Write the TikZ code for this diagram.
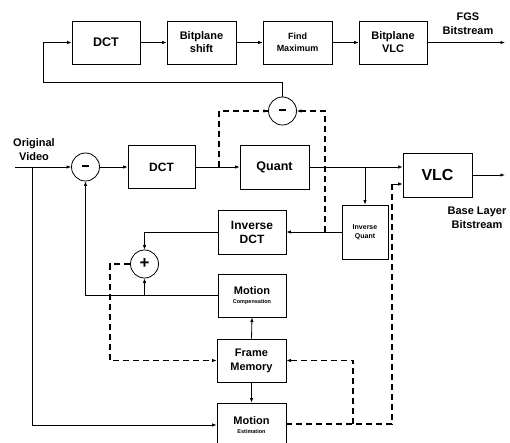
\documentclass[tikz,border=0pt]{standalone}
\usepackage{fontspec}
\setmainfont{Liberation Sans}
\usetikzlibrary{arrows.meta}
\begin{document}
\begin{tikzpicture}[x=1pt,y=-1pt,
  blk/.style={draw,line width=0.8pt,align=center,font=\bfseries,inner sep=1pt},
  sumc/.style={draw,circle,line width=0.8pt,minimum size=28pt,inner sep=0pt,font=\bfseries\fontsize{17}{17}\selectfont},
  conn/.style={line width=0.8pt},
  arr/.style={conn,-{Latex[length=4.5pt,width=3.5pt]}},
  dsh/.style={line width=1.2pt,dash pattern=on 6pt off 4pt},
  lbl/.style={align=center,font=\bfseries\fontsize{11}{14}\selectfont,inner sep=0pt}]
\useasboundingbox (0,0) rectangle (510,443);
% top row
\node[blk,minimum width=68pt,minimum height=43pt,font=\bfseries\fontsize{12.5}{13}\selectfont] (dcta) at (106,42.5) {DCT};
\node[blk,minimum width=69pt,minimum height=43pt,font=\bfseries\fontsize{11}{13}\selectfont] (bps) at (201.5,42.5) {Bitplane\\shift};
\node[blk,minimum width=69pt,minimum height=43pt,font=\bfseries\fontsize{9}{12}\selectfont] (fmax) at (297.5,42.5) {Find\\Maximum};
\node[blk,minimum width=68pt,minimum height=43pt,font=\bfseries\fontsize{11}{13}\selectfont] (bpvlc) at (393,42.5) {Bitplane\\VLC};
\coordinate (fgsend) at (505,42.5);
\node[lbl] (fgs) at (468,24) {FGS\\Bitstream};
\draw[arr] (dcta) -- (bps);
\draw[arr] (bps) -- (fmax);
\draw[arr] (fmax) -- (bpvlc);
\draw[arr] (bpvlc) -- (fgsend);
% second subtractor
\node[sumc] (minusb) at (282.5,111) {\rule[2pt]{7pt}{2.2pt}};
\coordinate (fbk) at (43,82);
\draw[arr] (minusb.north) |- (fbk) |- (dcta.west);
% main loop
\coordinate (ov) at (15,167);
\node[lbl] (ovl) at (34,149.5) {Original\\Video};
\node[sumc] (minusa) at (85.5,167) {\rule[2pt]{7pt}{2.2pt}};
\node[blk,minimum width=67pt,minimum height=43pt,font=\bfseries\fontsize{12}{13}\selectfont] (dctb) at (161.5,167) {DCT};
\node[blk,minimum width=69pt,minimum height=44pt,font=\bfseries\fontsize{12.5}{13}\selectfont] (quant) at (274.5,167) {Quant};
\node[blk,minimum width=69pt,minimum height=44pt,font=\bfseries\fontsize{16}{16}\selectfont] (vlc) at (437.5,175) {VLC};
\node[lbl] (bll) at (477,218) {Base Layer\\Bitstream};
\coordinate (vlcend) at (505,175);
\node[blk,minimum width=46pt,minimum height=54pt,font=\bfseries\fontsize{7}{9}\selectfont] (iq) at (365,232) {Inverse\\Quant};
\node[blk,minimum width=68pt,minimum height=44pt,font=\bfseries\fontsize{12}{14}\selectfont] (idct) at (252,232) {Inverse\\DCT};
\node[sumc] (plus) at (144.5,264) {+};
\node[blk,minimum width=68pt,minimum height=43pt,font=\bfseries\fontsize{11}{10}\selectfont] (mc) at (252,295.5) {Motion\\[-1pt]{\fontsize{5.5}{7}\selectfont Compensation}};
\node[blk,minimum width=69pt,minimum height=43pt,font=\bfseries\fontsize{11}{14}\selectfont] (fm) at (251.5,360.5) {Frame\\Memory};
\node[blk,minimum width=69pt,minimum height=44pt,font=\bfseries\fontsize{11}{10}\selectfont] (me) at (251.5,425) {Motion\\[-1pt]{\fontsize{5.5}{7}\selectfont Estimation}};
% connectors
\draw[arr] (ov) -- (minusa.west);
\coordinate (ovb) at (32,167);
\draw[arr] (ovb) |- (me.west);
\draw[arr] (minusa) -- (dctb);
\draw[arr] (dctb) -- (quant);
\coordinate (dq) at (219,167);
\draw[dsh] (dq) |- (minusb.west);
\draw[arr] ([xshift=-2pt]minusb.west) -- (minusb.west);
\draw[arr] (quant.east) -- (quant.east -| vlc.west);
\draw[arr] (vlc.east) -- (vlcend);
\coordinate (qb) at (365,167);
\draw[arr] (qb) -- (iq.north);
\draw[arr] (iq.west) -- (idct.east);
\coordinate (iqb) at (325,232);
\draw[dsh] (iqb) |- (minusb.east);
\draw[arr] ([xshift=2pt]minusb.east) -- (minusb.east);
\draw[arr] (idct.west) -| (plus.north);
\draw[arr] (mc.west) -| (minusa.south);
\coordinate (mcb) at (144.5,295.5);
\draw[arr] (mcb) -- (plus.south);
\coordinate (pd) at (110,264);
\draw[dsh] (plus.west) -- (pd) |- ([xshift=-3pt]fm.west);
\draw[arr] ([xshift=-3pt]fm.west) -- (fm.west);
\draw[arr] (fm.north) -- (mc.south);
\draw[arr] (fm.south) -- (me.north);
\coordinate (mer) at (392,424);
\coordinate (vlcin) at (392,184);
\coordinate (meb) at (353,424);
\draw[dsh] (me.east |- mer) -- (mer) -- (vlcin);
\draw[arr] (vlcin) -- (vlcin -| vlc.west);
\draw[dsh] (meb) |- ([xshift=3pt]fm.east);
\draw[arr] ([xshift=3pt]fm.east) -- (fm.east);
\end{tikzpicture}
\end{document}
